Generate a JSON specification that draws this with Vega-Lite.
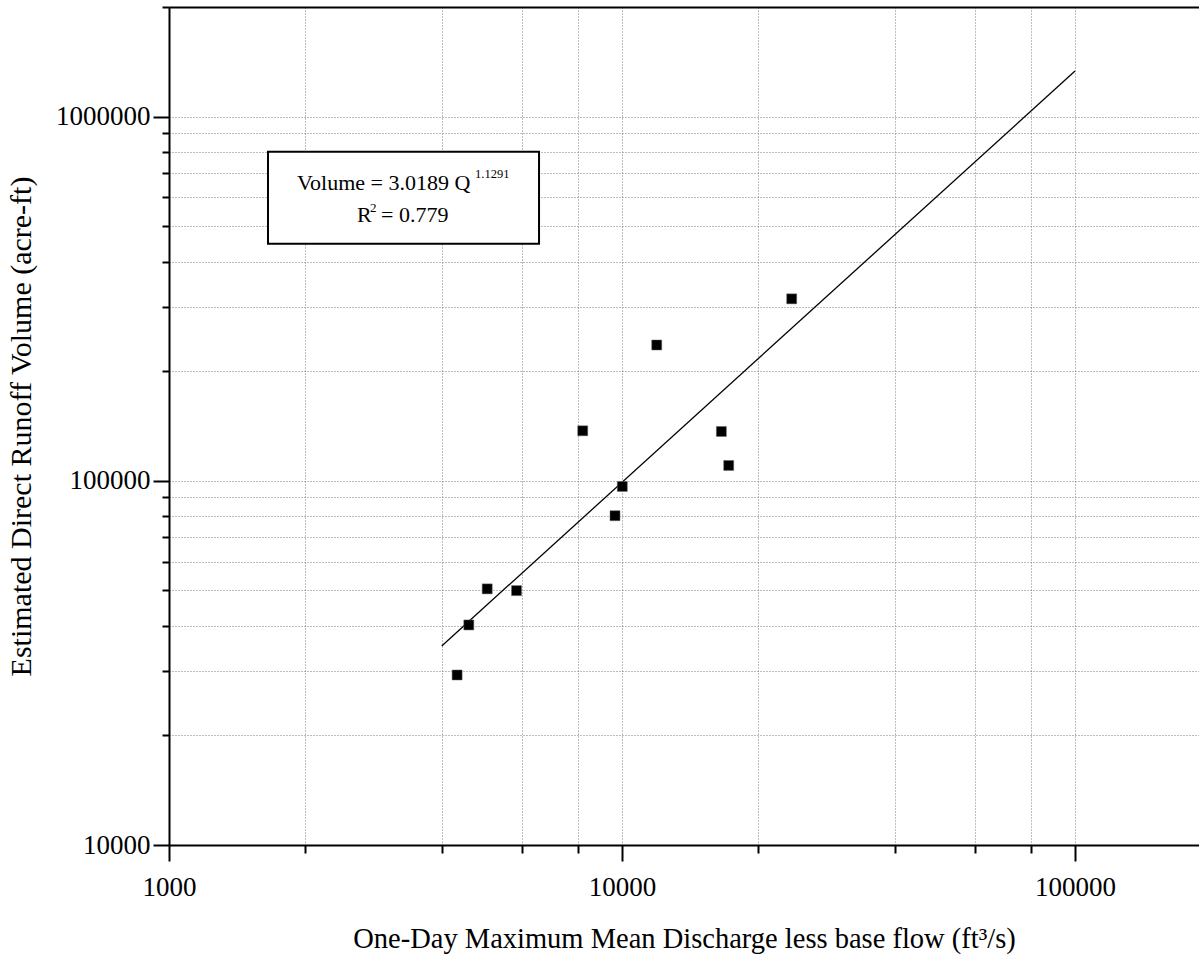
{
  "$schema": "https://vega.github.io/schema/vega-lite/v6.json",
  "autosize": "none",
  "width": 1030,
  "height": 838,
  "padding": {"left": 169, "top": 7, "right": 0, "bottom": 110},
  "background": "white",
  "config": {
    "view": {"stroke": null},
    "font": "Liberation Serif",
    "axis": {
      "labelFont": "Liberation Serif",
      "titleFont": "Liberation Serif",
      "labelColor": "black",
      "titleColor": "black",
      "titleFontWeight": "normal",
      "domainColor": "black",
      "domainWidth": 2,
      "tickColor": "black",
      "tickWidth": 2,
      "gridColor": "#7a7a7a",
      "gridDash": [1, 2],
      "gridWidth": 1,
      "labelOverlap": false,
      "labelFlush": false
    }
  },
  "datasets": {
    "pts": [
      {"q": 4325, "v": 29300},
      {"q": 4590, "v": 40200},
      {"q": 5040, "v": 50500},
      {"q": 5850, "v": 49950},
      {"q": 8190, "v": 137200},
      {"q": 9650, "v": 80200},
      {"q": 10015, "v": 96500},
      {"q": 11930, "v": 236000},
      {"q": 16570, "v": 136600},
      {"q": 17200, "v": 110200},
      {"q": 23690, "v": 316000}
    ],
    "fit": [
      {"q": 4000, "v": 35200},
      {"q": 100000, "v": 1334000}
    ],
    "box": [
      {"q": 1654, "q2": 6559, "v": 801400, "v2": 447700}
    ]
  },
  "layer": [
    {
      "data": {"name": "box"},
      "mark": {"type": "rect", "fill": "white", "stroke": "black", "strokeWidth": 2},
      "encoding": {
        "x": {
          "field": "q", "type": "quantitative",
          "scale": {"type": "log", "domain": [1000, 187800], "nice": false},
          "axis": {
            "values": [1000, 2000, 4000, 6000, 8000, 10000, 20000, 40000, 60000, 80000, 100000],
            "format": "d",
            "labelExpr": "(datum.value == 1000 || datum.value == 10000 || datum.value == 100000) ? datum.label : ''",
            "labelFontSize": 27,
            "labelPadding": 13,
            "tickSize": {"condition": {"test": "datum.value == 1000 || datum.value == 10000 || datum.value == 100000", "value": 16}, "value": 8},
            "grid": true,
            "title": "One-Day Maximum Mean Discharge less base flow (ft³/s)",
            "titleFontSize": 28.5,
            "titleY": 102,
            "titleBaseline": "alphabetic"
          }
        },
        "x2": {"field": "q2"},
        "y": {
          "field": "v", "type": "quantitative",
          "scale": {"type": "log", "domain": [10000, 2000000], "nice": false},
          "axis": {
            "values": [10000, 20000, 30000, 40000, 50000, 60000, 70000, 80000, 90000, 100000, 200000, 300000, 400000, 500000, 600000, 700000, 800000, 900000, 1000000, 2000000],
            "format": "d",
            "labelExpr": "(datum.value == 10000 || datum.value == 100000 || datum.value == 1000000) ? datum.label : ''",
            "labelFontSize": 27,
            "labelPadding": 3,
            "tickSize": {"condition": {"test": "datum.value == 10000 || datum.value == 100000 || datum.value == 1000000", "value": 16}, "value": 7},
            "grid": true,
            "gridColor": {"condition": {"test": "datum.value == 2000000", "value": "black"}, "value": "#7a7a7a"},
            "gridWidth": {"condition": {"test": "datum.value == 2000000", "value": 2}, "value": 1},
            "gridDash": {"condition": {"test": "datum.value == 2000000", "value": []}, "value": [1, 2]},
            "title": "Estimated Direct Runoff Volume (acre-ft)",
            "titleFontSize": 30,
            "titleX": -148,
            "titleBaseline": "middle"
          }
        },
        "y2": {"field": "v2"}
      }
    },
    {
      "data": {"name": "fit"},
      "mark": {"type": "line", "color": "black", "strokeWidth": 1.3},
      "encoding": {
        "x": {"field": "q", "type": "quantitative"},
        "y": {"field": "v", "type": "quantitative"}
      }
    },
    {
      "data": {"name": "pts"},
      "mark": {"type": "point", "shape": "square", "size": 100, "filled": true, "fill": "black", "stroke": "#666", "strokeWidth": 0.5, "opacity": 1},
      "encoding": {
        "x": {"field": "q", "type": "quantitative"},
        "y": {"field": "v", "type": "quantitative"}
      }
    },
    {
      "data": {"values": [{"q": 1917, "v": 630200, "t": "Volume = 3.0189 Q"}]},
      "mark": {"type": "text", "align": "left", "baseline": "alphabetic", "fontSize": 22, "font": "Liberation Serif", "color": "black"},
      "encoding": {
        "x": {"field": "q", "type": "quantitative"},
        "y": {"field": "v", "type": "quantitative"},
        "text": {"field": "t"}
      }
    },
    {
      "data": {"values": [{"q": 4738, "v": 679800, "t": "1.1291"}]},
      "mark": {"type": "text", "align": "left", "baseline": "alphabetic", "fontSize": 12.5, "font": "Liberation Serif", "color": "black"},
      "encoding": {
        "x": {"field": "q", "type": "quantitative"},
        "y": {"field": "v", "type": "quantitative"},
        "text": {"field": "t"}
      }
    },
    {
      "data": {"values": [{"q": 2600, "v": 514600, "t": "R"}, {"q": 2938, "v": 514600, "t": "= 0.779"}]},
      "mark": {"type": "text", "align": "left", "baseline": "alphabetic", "fontSize": 22, "font": "Liberation Serif", "color": "black"},
      "encoding": {
        "x": {"field": "q", "type": "quantitative"},
        "y": {"field": "v", "type": "quantitative"},
        "text": {"field": "t"}
      }
    },
    {
      "data": {"values": [{"q": 2778, "v": 548000, "t": "2"}]},
      "mark": {"type": "text", "align": "left", "baseline": "alphabetic", "fontSize": 13, "font": "Liberation Serif", "color": "black"},
      "encoding": {
        "x": {"field": "q", "type": "quantitative"},
        "y": {"field": "v", "type": "quantitative"},
        "text": {"field": "t"}
      }
    }
  ]
}
